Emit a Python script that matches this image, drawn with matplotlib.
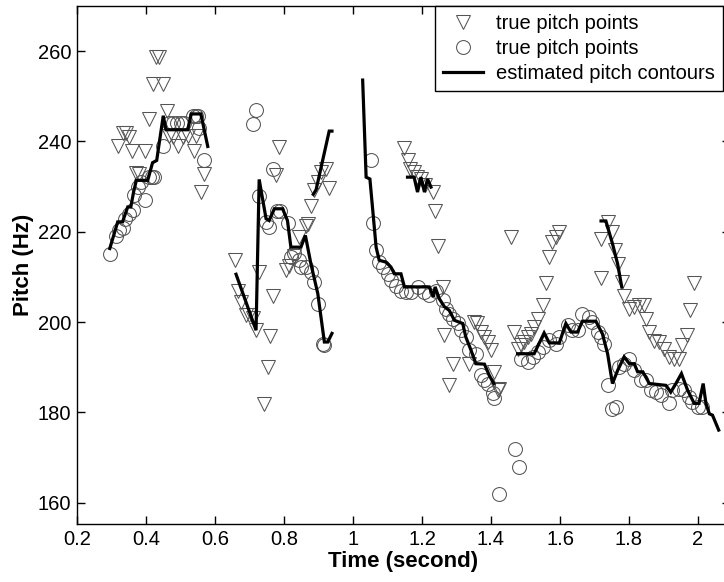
import numpy as np
import matplotlib
matplotlib.use("Agg")
import matplotlib.pyplot as plt

plt.rcParams['font.family'] = ['Liberation Sans', 'DejaVu Sans']

# triangles: "true pitch points" (first set)
tri_x = [0.320, 0.334, 0.342, 0.350, 0.360, 0.371, 0.379, 0.398, 0.408, 0.419, 0.429, 0.439,
         0.450, 0.460, 0.468, 0.477, 0.492, 0.506, 0.521, 0.540, 0.545, 0.559, 0.569,
         0.659, 0.668, 0.675, 0.690, 0.700, 0.710, 0.719, 0.728, 0.741, 0.753, 0.759, 0.769,
         0.777, 0.786, 0.806, 0.815, 0.830, 0.844, 0.864, 0.869, 0.878, 0.888, 0.898, 0.907,
         0.922, 0.931,
         1.149, 1.158, 1.166, 1.176, 1.186, 1.196, 1.210, 1.231, 1.238, 1.245, 1.260, 1.265,
         1.279, 1.289, 1.337, 1.352, 1.360, 1.371, 1.380, 1.390, 1.400, 1.409, 1.419, 1.424,
         1.458,
         1.467, 1.477, 1.487, 1.496, 1.506, 1.516, 1.525, 1.535, 1.550, 1.559, 1.569, 1.578,
         1.588, 1.598,
         1.719, 1.738, 1.752, 1.759, 1.767, 1.779, 1.719,
         1.786, 1.801, 1.815, 1.830, 1.844, 1.849, 1.859, 1.873, 1.888, 1.902, 1.917, 1.931,
         1.946, 1.955, 1.967, 1.977, 1.989]
tri_y = [239.1, 241.9, 241.9, 241.0, 237.9, 233.1, 232.9, 237.9, 245.0, 252.7, 258.6, 258.6,
         252.7, 246.8, 241.3, 241.0, 239.0, 241.0, 241.3, 237.9, 241.3, 228.8, 232.9,
         213.7, 206.9, 204.5, 201.5, 201.5, 201.0, 198.3, 211.0, 181.8, 190.1, 196.9, 205.7,
         232.5, 238.7, 211.6, 212.5, 214.7, 218.8, 221.2, 221.8, 225.8, 229.3, 231.0, 233.2,
         233.8, 229.7,
         238.6, 235.8, 234.0, 233.2, 232.1, 231.7, 230.3, 228.8, 224.7, 216.8, 207.8, 197.1,
         186.0, 190.8, 190.8, 200.0, 199.7, 197.8, 196.7, 195.6, 193.8, 189.0, 184.9, 185.3,
         218.8,
         197.8, 194.1, 194.9, 195.6, 196.7, 197.4, 198.9, 200.8, 203.7, 208.6, 214.5, 217.7,
         218.8, 220.0,
         218.5, 222.1, 219.9, 215.9, 212.9, 208.9, 209.8,
         205.7, 203.0, 203.3, 203.7, 203.7, 200.8, 197.8, 195.9, 195.6, 194.1, 192.3, 191.9,
         191.9, 194.9, 197.1, 202.7, 208.6]

# circles: "true pitch points" (second set)
circ_x = [0.295, 0.313, 0.323, 0.332, 0.340, 0.352, 0.361, 0.366, 0.376, 0.386, 0.398, 0.410,
          0.418, 0.424, 0.448, 0.468, 0.478, 0.490, 0.500, 0.510, 0.535, 0.545, 0.550, 0.555,
          0.569,
          0.709, 0.719, 0.728, 0.748, 0.757, 0.767, 0.780, 0.788, 0.811, 0.820, 0.830, 0.844,
          0.849, 0.864, 0.878, 0.888, 0.898, 0.912, 0.917,
          1.052, 1.057, 1.067, 1.076, 1.086, 1.100, 1.110, 1.125, 1.139, 1.154, 1.168, 1.187,
          1.207, 1.221, 1.240, 1.260, 1.270, 1.279, 1.289, 1.303, 1.313, 1.327, 1.337, 1.356,
          1.371, 1.381, 1.390, 1.405, 1.410,
          1.424, 1.470, 1.480,
          1.487, 1.506, 1.521, 1.535, 1.550, 1.569, 1.588, 1.598, 1.622, 1.636, 1.651, 1.665,
          1.685, 1.694, 1.709, 1.719, 1.728, 1.738, 1.752, 1.762, 1.772, 1.786, 1.801, 1.815,
          1.835, 1.849, 1.864, 1.878, 1.893, 1.917, 1.926, 1.946, 1.960, 1.975, 1.984, 1.999,
          2.013]
circ_y = [215.0, 219.1, 220.4, 220.9, 222.9, 224.0, 224.8, 228.1, 229.9, 231.0, 227.0, 232.1,
          232.1, 232.1, 239.0, 244.0, 244.0, 244.0, 244.0, 244.0, 245.7, 245.7, 245.7, 243.0,
          235.8,
          243.9, 246.9, 227.9, 222.2, 221.1, 234.0, 224.7, 224.7, 221.9, 214.4, 215.2, 213.7,
          212.2, 212.2, 211.1, 208.9, 204.1, 195.1, 194.9,
          236.0, 221.9, 216.0, 213.3, 212.2, 210.7, 209.3, 208.1, 207.0, 206.7, 206.7, 207.8,
          206.7, 205.9, 207.0, 204.8, 203.0, 201.9, 200.8, 199.7, 198.2, 196.7, 193.8, 193.0,
          188.2, 187.1, 186.4, 184.2, 183.1,
          162.0, 172.0, 168.0,
          191.9, 191.2, 192.3, 193.4, 194.5, 196.0, 195.2, 196.7, 199.3, 198.2, 198.2, 201.9,
          201.1, 200.0, 197.8, 196.7, 195.2, 186.0, 180.8, 181.2, 190.1, 190.8, 191.9, 189.3,
          187.1, 187.1, 184.9, 184.5, 183.8, 182.0, 184.9, 185.3, 184.9, 183.4, 182.3, 181.2,
          181.2]

# estimated pitch contours
c1_x = [0.295, 0.318, 0.332, 0.347, 0.356, 0.364, 0.372, 0.405, 0.419, 0.431, 0.450, 0.458,
        0.521, 0.531, 0.559, 0.579]
c1_y = [216.3, 222.2, 222.2, 225.5, 225.5, 228.8, 231.4, 231.4, 235.3, 235.8, 245.7, 242.6,
        242.6, 246.1, 246.1, 238.9]
c2_x = [0.661, 0.719, 0.728, 0.748, 0.757, 0.772, 0.796, 0.810, 0.820, 0.849, 0.862, 0.878,
        0.898, 0.917, 0.927, 0.939]
c2_y = [210.6, 198.2, 231.6, 222.9, 222.5, 225.1, 225.1, 222.5, 216.6, 216.6, 219.2, 212.9,
        206.3, 195.6, 195.6, 197.5]
c3_x = [0.885, 0.893, 0.931, 0.939]
c3_y = [228.3, 229.3, 242.3, 242.3]
c4_x = [1.028, 1.038, 1.049, 1.067, 1.076, 1.095, 1.110, 1.120, 1.139, 1.149, 1.221, 1.233,
        1.238, 1.250, 1.265, 1.279, 1.294, 1.318, 1.327, 1.342, 1.356, 1.381, 1.395, 1.408]
c4_y = [253.6, 232.1, 231.7, 216.6, 213.7, 213.3, 212.2, 210.7, 210.7, 207.8, 207.8, 205.6,
        207.8, 205.2, 203.4, 202.6, 200.4, 199.7, 196.7, 193.8, 190.8, 190.7, 188.2, 186.4]
c5_x = [1.158, 1.177, 1.187, 1.197, 1.207, 1.216, 1.226]
c5_y = [232.1, 232.1, 228.8, 232.1, 228.8, 231.7, 229.9]
c6_x = [1.477, 1.525, 1.554, 1.569, 1.598, 1.617, 1.632, 1.651, 1.665, 1.704, 1.723, 1.738,
        1.752, 1.767, 1.786, 1.801, 1.815, 1.825, 1.840, 1.859, 1.907, 1.921, 1.936, 1.952,
        1.970, 1.989, 2.003, 2.015, 2.023, 2.033, 2.042, 2.060]
c6_y = [193.0, 193.0, 197.6, 195.4, 195.4, 199.7, 197.8, 197.8, 200.2, 200.2, 197.4, 193.0,
        186.4, 189.3, 192.3, 190.8, 190.8, 189.0, 189.0, 186.4, 186.0, 184.5, 186.4, 188.6,
        184.9, 182.0, 182.0, 186.4, 182.0, 179.7, 179.4, 176.1]
c7_x = [1.719, 1.733, 1.752, 1.767, 1.779]
c7_y = [222.4, 222.4, 217.4, 212.9, 207.8]
contours = [(c1_x, c1_y), (c2_x, c2_y), (c3_x, c3_y), (c4_x, c4_y),
            (c5_x, c5_y), (c6_x, c6_y), (c7_x, c7_y)]

xticks = [0.2, 0.4, 0.6, 0.8, 1, 1.2, 1.4, 1.6, 1.8, 2]
xticklabels = ['0.2', '0.4', '0.6', '0.8', '1', '1.2', '1.4', '1.6', '1.8', '2']
yticks = [160, 180, 200, 220, 240, 260]

fig = plt.figure(figsize=(7.24, 5.82), dpi=100)
# right spine sits just outside the picture, as in the cropped original
ax = fig.add_axes([77/724, 58/582, 653/724, 518/582])

gray = '#555555'
h1, = ax.plot(tri_x, tri_y, linestyle='none', marker='v', markersize=10,
              markerfacecolor='none', markeredgecolor=gray, markeredgewidth=0.75)
h2, = ax.plot(circ_x, circ_y, linestyle='none', marker='o', markersize=10,
              markerfacecolor='none', markeredgecolor=gray, markeredgewidth=0.75)
for cx, cy in contours:
    h3, = ax.plot(cx, cy, color='black', linewidth=2.3, solid_joinstyle='miter')

ax.set_xlim(0.2, 0.2 + 653/345)
ax.set_ylim(155.3, 270)
ax.set_xticks(xticks)
ax.set_xticklabels(xticklabels)
ax.set_yticks(yticks)
ax.tick_params(direction='in', length=6, width=1, labelsize=14.5, top=True, right=True, pad=4)
for s in ax.spines.values():
    s.set_linewidth(1.0)

ax.set_xlabel('Time (second)', fontsize=16, fontweight='bold', labelpad=2)
ax.set_ylabel('Pitch (Hz)', fontsize=16, fontweight='bold', labelpad=3)

leg = ax.legend([h1, h2, h3], ['true pitch points', 'true pitch points', 'estimated pitch contours'],
                loc='upper right', bbox_to_anchor=(646/653, 1.0), borderaxespad=0,
                fontsize=14.5, fancybox=False, framealpha=1, edgecolor='black',
                handlelength=2.0, handletextpad=0.65, labelspacing=0.3, borderpad=0.4)
leg.get_frame().set_linewidth(1.0)

fig.savefig('out.png', dpi=100)
